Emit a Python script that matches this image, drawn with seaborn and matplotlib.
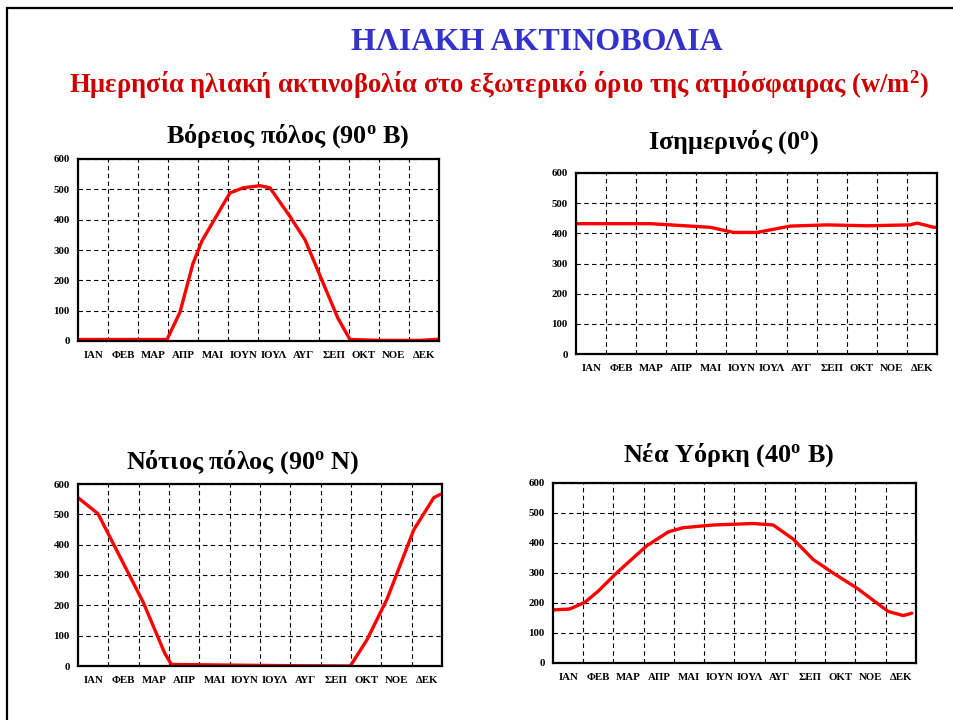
import numpy as np
import pandas as pd
import matplotlib
matplotlib.use("Agg")
import matplotlib.pyplot as plt
import seaborn as sns
from matplotlib.patches import Rectangle

# month labels (Greek abbreviations)
months = ['ΙΑΝ', 'ΦΕΒ', 'ΜΑΡ', 'ΑΠΡ', 'ΜΑΙ', 'ΙΟΥΝ', 'ΙΟΥΛ', 'ΑΥΓ', 'ΣΕΠ', 'ΟΚΤ', 'ΝΟΕ', 'ΔΕΚ']

# North pole (90 B) - time in months from 1 Jan, radiation w/m2
north_t = [0, 2.96, 3.39, 3.82, 4.12, 5.05, 5.49, 6.05, 6.38, 7.05, 7.55, 8.11, 8.64, 9.04, 10.1, 11.4, 12]
north_v = [5, 5, 95, 255, 330, 488, 505, 512, 505, 410, 333, 200, 75, 5, 2, 2, 6]

# Equator (0)
equator_t = [0, 2.47, 4.46, 5.24, 6.02, 7.12, 8.34, 9.67, 11.1, 11.34, 11.89, 12]
equator_v = [432, 432, 420, 403, 403, 424, 428, 425, 428, 434, 420, 420]

# South pole (90 N)
south_t = [0, 0.66, 2.15, 2.86, 3.08, 5.0, 7.0, 8.98, 9.53, 10.19, 11.07, 11.73, 11.95]
south_v = [555, 502, 210, 42, 5, 3, 1, 0, 87, 221, 449, 555, 566]

# New York (40 B)
ny_t = [0, 0.55, 1.05, 1.49, 2.1, 3.09, 3.81, 4.3, 5.29, 6.62, 7.28, 7.94, 8.6, 9.26, 10.04, 11.08, 11.58, 11.86]
ny_v = [177, 180, 202, 239, 300, 390, 437, 451, 460, 465, 460, 413, 345, 300, 250, 172, 158, 166]

main_title = 'ΗΛΙΑΚΗ ΑΚΤΙΝΟΒΟΛΙΑ'
sub_title = 'Ημερησία ηλιακή ακτινοβολία στο εξωτερικό όριο της ατμόσφαιρας (w/m$^{2}$)'

sns.set_style('white')
plt.rcParams['font.family'] = ['Liberation Serif', 'DejaVu Serif']
plt.rcParams['font.weight'] = 'bold'
plt.rcParams['text.color'] = 'black'
plt.rcParams['xtick.color'] = 'black'
plt.rcParams['ytick.color'] = 'black'
plt.rcParams['mathtext.fontset'] = 'custom'
plt.rcParams['mathtext.rm'] = 'Liberation Serif:bold'
plt.rcParams['mathtext.default'] = 'rm'

fig = plt.figure(figsize=(9.54, 7.2), dpi=100)
W, H = 954, 720


def make_panel(box, t, v, title, title_xy):
    left, top, right, bottom = box
    ax = fig.add_axes([left / W, 1 - bottom / H, (right - left) / W, (bottom - top) / H])
    df = pd.DataFrame({'t': t, 'v': v})
    sns.lineplot(data=df, x='t', y='v', ax=ax, color='#FF0000', linewidth=2.4, sort=False)
    ax.set_xlim(0, 12)
    ax.set_ylim(0, 600)
    ax.set_xticks(np.arange(1, 12), minor=False)
    ax.set_xticklabels([])
    ax.set_xticks(np.arange(12) + 0.5, minor=True)
    ax.set_xticklabels(months, minor=True)
    ax.set_yticks(range(0, 601, 100))
    ax.tick_params(axis='both', which='both', length=0, labelsize=7.8, labelcolor='black')
    ax.tick_params(axis='x', which='minor', pad=7)
    ax.tick_params(axis='y', pad=6)
    for lab in ax.get_xticklabels(minor=True) + ax.get_yticklabels():
        lab.set_fontweight('bold')
    ax.grid(True, which='major', color='black', linestyle=(0, (4, 3)), linewidth=0.8)
    for s in ax.spines.values():
        s.set_visible(True)
        s.set_color('black')
        s.set_linewidth(1.6)
    ax.set_xlabel('')
    ax.set_ylabel('')
    fig.text(title_xy[0] / W, 1 - title_xy[1] / H, title, ha='center', va='baseline',
             fontsize=18.8, fontweight='bold', color='black')
    return ax


make_panel((78, 159, 439, 341), north_t, north_v, 'Βόρειος πόλος (90$^{\\rm o}$ Β)', (288, 143))
make_panel((576, 173, 937, 354), equator_t, equator_v, 'Ισημερινός (0$^{\\rm o}$)', (733, 149))
make_panel((78, 484, 442, 666), south_t, south_v, 'Νότιος πόλος (90$^{\\rm o}$ Ν)', (243, 469))
make_panel((553, 483, 916, 663), ny_t, ny_v, 'Νέα Υόρκη (40$^{\\rm o}$ Β)', (729, 462))

fig.text(537 / W, 1 - 50 / H, main_title, ha='center', va='baseline', fontsize=23,
         fontweight='bold', color='#3333CC')
fig.text(499 / W, 1 - 93 / H, sub_title, ha='center', va='baseline', fontsize=19.2,
         fontweight='bold', color='#CC0000')

# slide frame
fig.add_artist(Rectangle((7 / W, -0.5), 2, 1.5 - 8 / H, transform=fig.transFigure,
                         fill=False, edgecolor='black', linewidth=1.6))

fig.savefig('out.png', dpi=100)
